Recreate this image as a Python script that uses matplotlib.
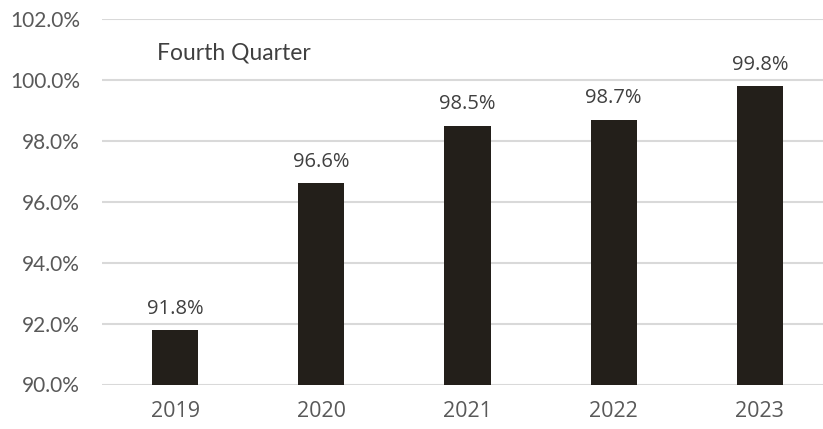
import matplotlib
matplotlib.use("Agg")
import matplotlib.pyplot as plt

years = ["2019", "2020", "2021", "2022", "2023"]
values = [91.8, 96.6, 98.5, 98.7, 99.8]
yticks = [90, 92, 94, 96, 98, 100, 102]
title = "Fourth Quarter"

W, H = 823, 429
fig = plt.figure(figsize=(W / 100, H / 100), dpi=100)
ax = fig.add_axes([102 / W, (H - 384.5) / H, 731 / W, (384.5 - 19) / H])

x = list(range(len(years)))
ax.bar(x, values, width=0.315, color="#231f1a", zorder=3)
ax.set_xlim(-0.5, 4.5)
ax.set_ylim(90, 102)
ax.set_yticks(yticks)
ax.set_yticklabels([f"{v:.1f}%" for v in yticks], family="Lato", fontsize=15, color="#595959")
ax.set_xticks(x)
ax.set_xticklabels(years, family="Open Sans", fontsize=15.5, color="#595959")
ax.grid(axis="y", color="#d9d9d9", linewidth=1.5, zorder=0)
for s in ax.spines.values():
    s.set_visible(False)
ax.tick_params(length=0)
ax.tick_params(axis="y", pad=16)
ax.tick_params(axis="x", pad=12)

for xi, v in zip(x, values):
    ax.annotate(f"{v:.1f}%", (xi, v), xytext=(0, 8), textcoords="offset points",
                ha="center", va="bottom", family="Open Sans", fontsize=14.5, color="#404040")

fig.text(157 / W, 1 - 53 / H, title, family="Lato", fontsize=16.5,
         color="#404040", va="center", ha="left")

fig.savefig("out.png", dpi=100)
